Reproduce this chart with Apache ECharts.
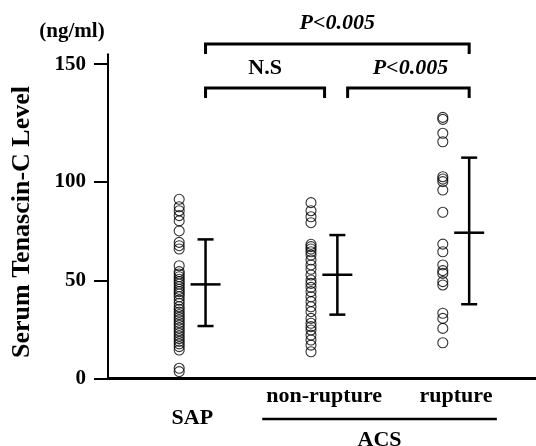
<!DOCTYPE html>
<html><head><meta charset="utf-8">
<script src="https://cdn.jsdelivr.net/npm/echarts@6/dist/echarts.min.js"></script>
<style>html,body{margin:0;padding:0;background:#fff}#c{width:536px;height:446px}</style>
</head><body><div id="c"></div>
<script>
// ---- data ----
const groups = ['SAP', 'non-rupture', 'rupture'];
const sapValues = [91.2, 87.4, 85.4, 82.9, 80.2, 75.1, 69.3, 67.6, 65.9, 57.4,
  54.4, 53.2, 51.8, 50.5, 49.3, 48.1, 46.7, 45.4, 44.2, 43.0, 41.6, 39.9, 38.3, 36.5,
  35.2, 33.8, 32.5, 31.1, 29.8, 28.4, 27.1, 25.7, 24.3, 23.0, 21.6, 20.3, 18.9, 17.6,
  16.2, 14.5, 5.2, 3.5];
const nonRuptureValues = [89.5, 85.4, 82.3, 79.3, 68.3, 67.1, 65.9, 64.5, 62.8, 60.3,
  57.8, 55.6, 52.7, 50.1, 48.4, 46.4, 44.2, 41.6, 39.1, 36.5, 34.0, 30.6, 28.1, 26.4,
  24.7, 22.1, 19.6, 17.0, 13.6];
const ruptureValues = [132.9, 131.9, 124.8, 120.5, 102.7, 101.5, 100.2, 95.9, 84.6,
  68.4, 64.5, 57.8, 54.9, 53.5, 49.3, 47.6, 33.2, 30.6, 25.5, 18.2];
const means = [47.9, 52.8, 74.2];
const sdUpper = [70.8, 73.0, 112.4];
const sdLower = [26.7, 32.5, 37.8];
const yTickValues = [0, 50, 100, 160];
const yTickLabels = ['0', '50', '100', '150'];
const unitLabel = '(ng/ml)';
const yTitle = 'Serum Tenascin-C Level';
const groupTitle = 'ACS';
const comparisonLabels = ['P<0.005', 'N.S', 'P<0.005'];

// ---- layout ----
const FONT = '"Liberation Serif", "Times New Roman", serif';
const ERR_OFF = 0.2;
const allValues = [sapValues, nonRuptureValues, ruptureValues];
const scatterSeries = allValues.map((vals, i) => ({
  type: 'scatter',
  symbol: 'circle',
  symbolSize: 10,
  itemStyle: { color: 'rgba(0,0,0,0)', borderColor: '#000', borderWidth: 1.1 },
  data: vals.map(v => [i, v]),
  silent: true
}));

const chart = echarts.init(document.getElementById('c'), null, { renderer: 'canvas' });
chart.setOption({
  animation: false,
  backgroundColor: '#fff',
  grid: { left: 108, right: 0, top: 54.3, bottom: 67.5 },
  xAxis: {
    type: 'value', min: -0.54, max: 2.707,
    axisLine: { show: true, onZero: false, lineStyle: { color: '#000', width: 3 } },
    axisTick: { show: false }, axisLabel: { show: false }, splitLine: { show: false }
  },
  yAxis: {
    type: 'value', min: 0, max: 165,
    axisLine: { show: true, onZero: false, lineStyle: { color: '#000', width: 2 } },
    axisTick: { show: true, customValues: yTickValues, length: 14, lineStyle: { color: '#000', width: 2 } },
    axisLabel: {
      show: true, customValues: yTickValues, margin: 22,
      formatter: v => yTickLabels[yTickValues.indexOf(v)],
      fontFamily: FONT, fontWeight: 'bold', fontSize: 21, color: '#000'
    },
    splitLine: { show: false }
  },
  series: scatterSeries.concat([{
    type: 'custom',
    silent: true,
    data: groups.map((g, i) => [i + ERR_OFF, means[i], sdLower[i], sdUpper[i]]),
    renderItem(params, api) {
      const x = api.value(0);
      const m = api.coord([x, api.value(1)]);
      const lo = api.coord([x, api.value(2)]);
      const hi = api.coord([x, api.value(3)]);
      const st = { stroke: '#000', lineWidth: 2.5 };
      return {
        type: 'group', children: [
          { type: 'line', shape: { x1: m[0], y1: hi[1], x2: m[0], y2: lo[1] }, style: st },
          { type: 'line', shape: { x1: m[0] - 8, y1: hi[1], x2: m[0] + 8, y2: hi[1] }, style: st },
          { type: 'line', shape: { x1: m[0] - 8, y1: lo[1], x2: m[0] + 8, y2: lo[1] }, style: st },
          { type: 'line', shape: { x1: m[0] - 15, y1: m[1], x2: m[0] + 15, y2: m[1] }, style: st }
        ]
      };
    }
  }])
});

// annotations positioned via the chart's own x scale
const px = v => chart.convertToPixel({ xAxisIndex: 0 }, v);
const txt = (x, y, text, size, italic, rot) => ({
  type: 'text', x, y, rotation: rot || 0,
  style: {
    text, fill: '#000', align: 'center', verticalAlign: 'middle',
    font: (italic ? 'italic ' : '') + 'bold ' + size + 'px ' + FONT
  }
});
const bracket = (x1, x2, yTop, yBottom) => ({
  type: 'polyline',
  shape: { points: [[x1, yBottom], [x1, yTop], [x2, yTop], [x2, yBottom]] },
  style: { stroke: '#000', lineWidth: 3, fill: null }
});
const bTop = [px(0 + ERR_OFF), px(2 + ERR_OFF)];
const bLeft = [px(0 + ERR_OFF), px(1.103)];
const bRight = [px(1.278), px(2 + ERR_OFF)];
const elements = [
  txt(72, 32, unitLabel, 21, false),
  txt(22, 222, yTitle, 26, false, Math.PI / 2),
  bracket(bTop[0], bTop[1], 44, 54),
  bracket(bLeft[0], bLeft[1], 88, 98),
  bracket(bRight[0], bRight[1], 88, 98),
  txt((bTop[0] + bTop[1]) / 2, 23, comparisonLabels[0], 22, true),
  txt((bLeft[0] + bLeft[1]) / 2, 68, comparisonLabels[1], 22, false),
  txt((bRight[0] + bRight[1]) / 2 + 2, 68, comparisonLabels[2], 22, true),
  txt(px(0 + ERR_OFF / 2), 418, groups[0], 22, false),
  txt(px(1 + ERR_OFF / 2), 396, groups[1], 22, false),
  txt(px(2 + ERR_OFF / 2), 396, groups[2], 22, false),
  { type: 'line', shape: { x1: px(0.63), y1: 419, x2: px(2.41), y2: 419 }, style: { stroke: '#000', lineWidth: 2.5 } },
  txt(px(1.52), 440, groupTitle, 22, false)
];
chart.setOption({ graphic: { elements } });
</script>
</body></html>
